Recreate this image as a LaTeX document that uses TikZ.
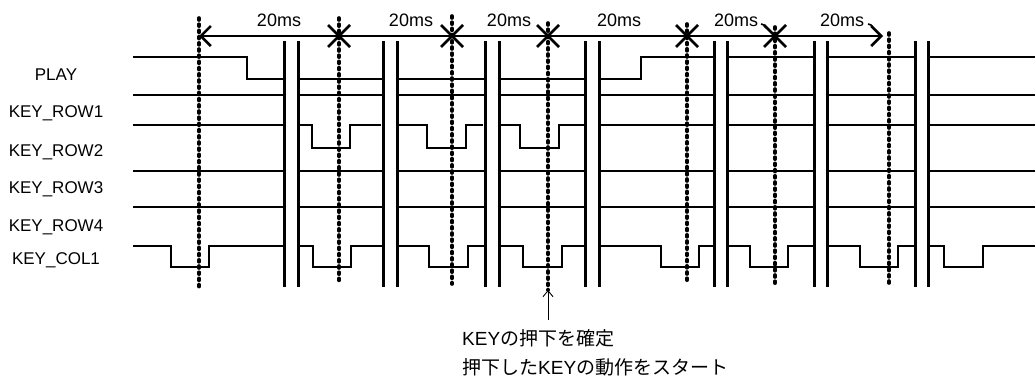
\documentclass[tikz,border=0pt]{standalone}
\usepackage{fontspec}
\setmainfont{Liberation Sans}
\newfontfamily\jpfont{Noto Sans CJK JP}
\usetikzlibrary{arrows.meta}
\begin{document}
\begin{tikzpicture}[x=1pt,y=-1pt,
  sig/.style={line width=2.5pt,line join=miter},
  brk/.style={line width=3pt},
  dotl/.style={line width=3.6pt,line cap=round,dash pattern=on 2pt off 4.2pt},
  xmark/.style={line width=2.8pt},
  lbl/.style={font=\fontsize{17}{20}\selectfont,inner sep=0pt},
  mslbl/.style={font=\fontsize{18}{20}\selectfont,inner sep=0pt},
  note/.style={font=\fontsize{19}{22}\selectfont,inner sep=0pt,anchor=west}]
\useasboundingbox (0,0) rectangle (1035,381);
% signal labels
\node[lbl] (lplay) at (56,75) {PLAY};
\node[lbl] (lr1) at (56,113) {KEY\_ROW1};
\node[lbl] (lr2) at (56,152) {KEY\_ROW2};
\node[lbl] (lr3) at (56,189) {KEY\_ROW3};
\node[lbl] (lr4) at (56,227) {KEY\_ROW4};
\node[lbl] (lc1) at (56,260) {KEY\_COL1};
% break pairs
\foreach \a/\b in {284/298,383/397,485/499,585/599,714/727,814/827,915/928}{
  \draw[brk] (\a,41) -- (\a,287);
  \draw[brk] (\b,41) -- (\b,287);
}
% PLAY
\draw[sig] (133,57) -- (247,57) -- (247,79) -- (284,79);
\draw[sig] (298,79) -- (383,79);
\draw[sig] (397,79) -- (485,79);
\draw[sig] (499,79) -- (585,79);
\draw[sig] (599,79) -- (641,79) -- (641,57) -- (714,57);
\draw[sig] (727,57) -- (814,57);
\draw[sig] (827,57) -- (915,57);
\draw[sig] (928,57) -- (1035,57);
% flat rows
\foreach \y in {95,171,207}{
  \draw[sig] (133,\y) -- (284,\y);
  \draw[sig] (298,\y) -- (383,\y);
  \draw[sig] (397,\y) -- (485,\y);
  \draw[sig] (499,\y) -- (585,\y);
  \draw[sig] (599,\y) -- (714,\y);
  \draw[sig] (727,\y) -- (814,\y);
  \draw[sig] (827,\y) -- (915,\y);
  \draw[sig] (928,\y) -- (1035,\y);
}
% KEY_ROW2
\draw[sig] (133,125) -- (284,125);
\draw[sig] (298,125) -- (312,125) -- (312,148) -- (350,148) -- (350,125) -- (381,125);
\draw[sig] (397,125) -- (427,125) -- (427,148) -- (466,148) -- (466,125) -- (483,125);
\draw[sig] (499,125) -- (520,125) -- (520,148) -- (559,148) -- (559,125) -- (585,125);
\draw[sig] (599,125) -- (714,125);
\draw[sig] (727,125) -- (814,125);
\draw[sig] (827,125) -- (915,125);
\draw[sig] (928,125) -- (1035,125);
% KEY_COL1
\foreach \s/\p/\q/\e in {133/171/209/284,298/313/351/383,397/429/468/485,499/523/562/585,599/661/699/714,727/750/788/814,827/860/898/915,928/944/983/1035}{
  \draw[sig] (\s,246) -- (\p,246) -- (\p,267) -- (\q,267) -- (\q,246) -- (\e,246);
}
% dotted lines
\foreach \x/\t/\b in {199/18/289,339/18/284,452/16/284,548/23/290,687/24/284,775/27/284,889/33/284}{
  \draw[dotl] (\x,\t) -- (\x,\b);
}
% time arrow
\coordinate (ta) at (199,36);
\coordinate (tb) at (883,36);
\draw[line width=2.2pt,{Straight Barb[length=10pt,width=20pt,line width=2.6pt]}-{Straight Barb[length=10pt,width=20pt,line width=2.6pt]}] (ta) -- (tb);
\foreach \x in {339,452,548,687,775}{
  \draw[xmark] (\x-11,36-11) -- (\x+11,36+11);
  \draw[xmark] (\x-11,36+11) -- (\x+11,36-11);
}
% 20ms labels
\node[mslbl] (m1) at (279,20) {20ms};
\node[mslbl] (m2) at (411,20) {20ms};
\node[mslbl] (m3) at (509,20) {20ms};
\node[mslbl] (m4) at (619,20) {20ms};
\node[mslbl] (m5) at (736,20) {20ms};
\node[mslbl] (m6) at (842,20) {20ms};
\draw[line width=1.6pt] (761,24) -- (764,25) -- (766,28);
\draw[line width=1.6pt] (868,24) -- (871,25) -- (873,28);
% annotation
\coordinate (pt) at (548,290);
\coordinate (pb) at (548,320);
\draw[line width=0.9pt,-{Straight Barb[length=6pt,width=10pt]}] (pb) -- (pt);
\node[note] (n1) at (462,338) {KEY{\jpfont の押下を確定}};
\node[note] (n2) at (462,367) {{\jpfont 押下した}KEY{\jpfont の動作をスタート}};
\end{tikzpicture}
\end{document}
